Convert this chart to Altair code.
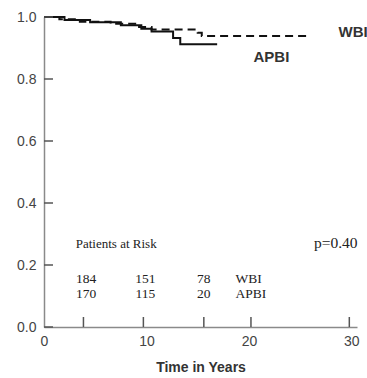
import altair as alt
import pandas as pd

# Kaplan-Meier step curves (time in years, survival)
wbi_t = [0, 1.5, 3.5, 6.5, 9.0, 10.5, 15.0, 15.4, 26.0]
wbi_s = [1.0, 0.993, 0.985, 0.978, 0.968, 0.960, 0.949, 0.939, 0.939]
apbi_t = [0, 2.0, 4.5, 7.5, 9.5, 10.5, 12.6, 13.3, 16.9]
apbi_s = [1.0, 0.990, 0.983, 0.973, 0.962, 0.953, 0.932, 0.912, 0.912]

# Patients at risk
risk_times = [4.1, 9.9, 15.6]
risk_wbi = ["184", "151", "78"]
risk_apbi = ["170", "115", "20"]

x_tick_marks = [3.85, 9.7, 15.6, 20.2, 29.8]
y_ticks = [0.0, 0.2, 0.4, 0.6, 0.8, 1.0]
x_labels = [0, 10, 20, 30]

curves = pd.DataFrame({
    "t": wbi_t + apbi_t,
    "s": wbi_s + apbi_s,
    "arm": ["WBI"] * len(wbi_t) + ["APBI"] * len(apbi_t),
})

xscale = alt.Scale(domain=[0, 30.55], nice=False, zero=False)
yscale = alt.Scale(domain=[0, 1], nice=False)

lines = alt.Chart(curves).mark_line(interpolate="step-after", color="#111", strokeWidth=2).encode(
    x=alt.X("t:Q", scale=xscale, axis=alt.Axis(
        values=x_labels, ticks=False, grid=False, domainColor="#8a8a8a", domainWidth=1.5,
        labelFontSize=14, labelColor="#444", labelFont="Liberation Sans", labelPadding=7,
        labelFlush=False, labelOverlap=False,
        title="Time in Years", titleFontSize=14, titleFont="Liberation Sans",
        titleFontWeight="bold", titleColor="#333", titlePadding=12)),
    y=alt.Y("s:Q", scale=yscale, axis=alt.Axis(
        values=y_ticks, format=".1f", ticks=False, grid=False, domainColor="#8a8a8a",
        domainWidth=1.5, labelFontSize=14, labelColor="#444", labelFont="Liberation Sans",
        labelPadding=8, labelFlush=False, labelOverlap=False, title=None)),
    strokeDash=alt.StrokeDash("arm:N", scale=alt.Scale(domain=["WBI", "APBI"], range=[[8, 5], [1, 0]]), legend=None),
    detail="arm:N",
)

xt = alt.Chart(pd.DataFrame({"t": x_tick_marks})).mark_rule(color="#555", strokeWidth=1.5).encode(
    x=alt.X("t:Q", scale=xscale), y=alt.value(300), y2=alt.value(310))
yt = alt.Chart(pd.DataFrame({"v": y_ticks})).mark_rule(color="#555", strokeWidth=1.5).encode(
    y=alt.Y("v:Q", scale=yscale), x=alt.value(0), x2=alt.value(9))

wbi_label = alt.Chart(pd.DataFrame({"t": [28.75], "s": [0.952], "label": ["WBI"]})).mark_text(
    fontSize=15, fontWeight="bold", font="Liberation Sans", color="#333", align="left").encode(
    x=alt.X("t:Q", scale=xscale), y=alt.Y("s:Q", scale=yscale), text="label:N")
apbi_label = alt.Chart(pd.DataFrame({"t": [22.2], "s": [0.871], "label": ["APBI"]})).mark_text(
    fontSize=15, fontWeight="bold", font="Liberation Sans", color="#333", align="center").encode(
    x=alt.X("t:Q", scale=xscale), y=alt.Y("s:Q", scale=yscale), text="label:N")

risk_rows = pd.DataFrame({
    "t": risk_times + risk_times,
    "s": [0.155] * 3 + [0.107] * 3,
    "label": risk_wbi + risk_apbi,
})
risk_text = alt.Chart(risk_rows).mark_text(fontSize=13.5, font="Liberation Serif", color="#222").encode(
    x=alt.X("t:Q", scale=xscale), y=alt.Y("s:Q", scale=yscale), text="label:N")

row_names = pd.DataFrame({"t": [18.7, 18.7], "s": [0.155, 0.107], "label": ["WBI", "APBI"]})
row_text = alt.Chart(row_names).mark_text(fontSize=13.5, font="Liberation Serif", color="#222", align="left").encode(
    x=alt.X("t:Q", scale=xscale), y=alt.Y("s:Q", scale=yscale), text="label:N")

header = pd.DataFrame({"t": [3.1], "s": [0.269], "label": ["Patients at Risk"]})
header_text = alt.Chart(header).mark_text(fontSize=13, font="Liberation Serif", color="#222", align="left").encode(
    x=alt.X("t:Q", scale=xscale), y=alt.Y("s:Q", scale=yscale), text="label:N")

pval = pd.DataFrame({"t": [30.6], "s": [0.271], "label": ["p=0.40"]})
p_text = alt.Chart(pval).mark_text(fontSize=15.5, font="Liberation Serif", color="#222", align="right").encode(
    x=alt.X("t:Q", scale=xscale), y=alt.Y("s:Q", scale=yscale), text="label:N")

chart = alt.layer(lines, xt, yt, wbi_label, apbi_label, risk_text, row_text, header_text, p_text).properties(
    width=313, height=310,
    autosize=alt.AutoSizeParams(type="none"),
    padding={"left": 44, "top": 17, "right": 10, "bottom": 51},
    background="white",
).configure_view(stroke=None)

chart.save("out.html", embed_options={"renderer": "svg", "actions": False})
